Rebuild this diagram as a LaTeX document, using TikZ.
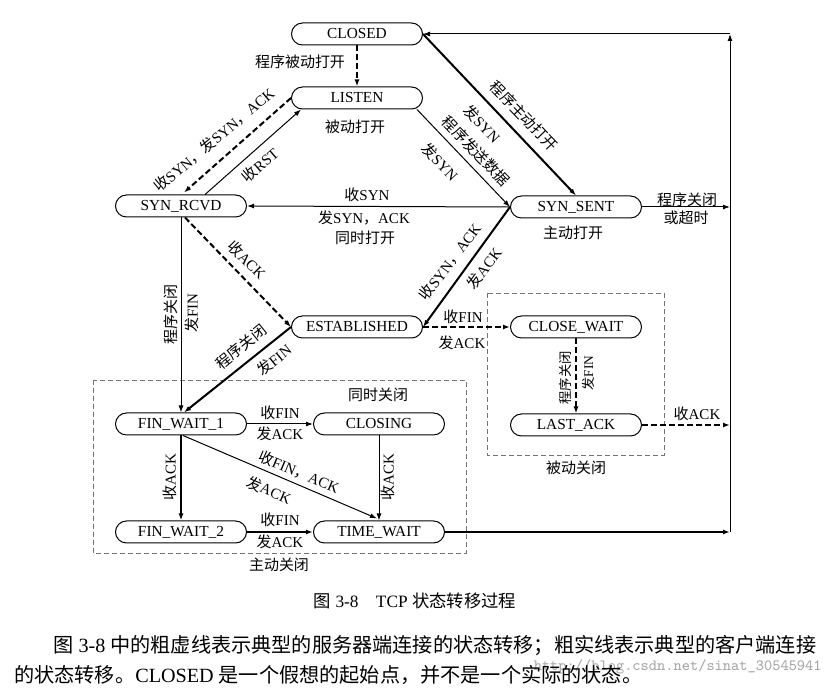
\documentclass[tikz,border=0pt]{standalone}
\usepackage{fontspec}
\setmainfont{Liberation Serif}
\newfontfamily\zhfont{Noto Sans CJK SC}
\newcommand{\zh}[1]{{\zhfont #1}}
\usetikzlibrary{arrows.meta, calc, positioning}
\tikzset{
  state/.style    = {draw, line width=0.6pt, rounded corners=6.6pt, minimum width=78.6pt,
                     minimum height=13.2pt, inner sep=0pt, font=\fontsize{9.2}{10}\selectfont},
  arrowed/.style  = {-{Latex[length=4.2pt,width=3pt]}},
  server/.style   = {arrowed, line width=1.2pt, dash pattern=on 3.6pt off 1.8pt},
  client/.style   = {arrowed, line width=1.2pt},
  thinline/.style = {arrowed, line width=0.6pt},
  groupbox/.style = {draw=black!55, line width=0.5pt, dash pattern=on 3pt off 1.8pt},
  lbl/.style      = {font=\fontsize{9}{10}\selectfont, inner sep=0pt},
  smalllbl/.style = {font=\fontsize{8}{9}\selectfont, inner sep=0pt},
  para/.style     = {anchor=west, inner sep=0pt, font=\fontsize{12.1}{14}\selectfont},
}

\begin{document}
\begin{tikzpicture}[x=0.6pt, y=-0.6pt]
  \useasboundingbox (0,0) rectangle (834,692);
  % closing groups
  \draw[groupbox] (93,380) rectangle (466,553);
  \draw[groupbox] (487,293) rectangle (664,455);

  % states
  \node[state] (closed)    at (357,34)  {CLOSED};
  \node[state] (listen)    at (357,98)  {LISTEN};
  \node[state] (synrcvd)   at (181,206) {SYN\_RCVD};
  \node[state] (synsent)   at (576,207) {SYN\_SENT};
  \node[state] (estab)     at (357,327) {ESTABLISHED};
  \node[state] (closewait) at (576,327) {CLOSE\_WAIT};
  \node[state] (lastack)   at (576,425) {LAST\_ACK};
  \node[state] (finwait1)  at (181,424) {FIN\_WAIT\_1};
  \node[state] (closing)   at (379,424) {CLOSING};
  \node[state] (finwait2)  at (181,532) {FIN\_WAIT\_2};
  \node[state] (timewait)  at (379,532) {TIME\_WAIT};

  % return path on the right
  \coordinate (rbot)  at (730,532);
  \coordinate (rtop)  at (closed.east -| rbot);
  \coordinate (rsent) at (synsent.east -| rbot);
  \coordinate (rlast) at (lastack.east -| rbot);

  % opening
  \draw[server] (closed) -- (listen);
  \draw[server] (listen.west) -- ($(synrcvd.north)+(3,-2)$);
  \draw[thinline] ($(synrcvd.north)+(24,0)$) -- ($(listen.south west)+(10,0)$);
  \draw[client] (closed.east) -- (synsent.north);
  \draw[thinline] ($(listen.south east)+(-6,0)$) -- (synsent.west);
  \draw[thinline] (synsent.west) -- (synrcvd.east);
  \draw[server] ($(synrcvd.south)+(4,0)$) -- (estab.west);
  \draw[client] (synsent.west) -- (estab.east);

  % closing
  \draw[server] (estab.east) -- (closewait.west);
  \draw[server] (closewait) -- (lastack);
  \draw[client] (estab.west) -- ($(finwait1.north)+(3,0)$);
  \draw[thinline] (synrcvd) -- (finwait1);
  \draw[thinline] (finwait1) -- (closing);
  \draw[client] (finwait1) -- (finwait2);
  \draw[thinline] ($(finwait1.south)+(2,0)$) -- ($(timewait.north)+(-2,-2)$);
  \draw[thinline] (closing) -- (timewait);
  \draw[client] (finwait2) -- (timewait);
  \draw[client] (timewait) -- (rbot);
  \draw[thinline] (synsent) -- (rsent);
  \draw[server] (lastack) -- (rlast);
  \draw[thinline] (rbot) -- (rtop);
  \draw[thinline] (rtop) -- (closed.east);

  % labels
  \node[lbl] (lPasvOpen) at (300,62)  {\zh{程序被动打开}};
  \node[lbl] (lListen)   at (355,127) {\zh{被动打开}};
  \node[lbl, rotate=40]  (lRcvSyn)   at (214,140) {\zh{收}SYN\zh{，发}SYN\zh{，}ACK};
  \node[lbl, rotate=41]  (lRst)      at (260,165) {\zh{收}RST};
  \node[lbl, rotate=-46] (lActOpen)  at (524,116) {\zh{程序主动打开}};
  \node[lbl, rotate=-46] (lSendSyn)  at (482,124) {\zh{发}SYN};
  \node[lbl, rotate=-46] (lSendData) at (476,151) {\zh{程序发送数据}};
  \node[lbl, rotate=-46] (lSendSynB) at (440,162) {\zh{发}SYN};
  \node[lbl] (lSimRcv)   at (367,195) {\zh{收}SYN};
  \node[lbl] (lSimSend)  at (364,218) {\zh{发}SYN\zh{，}ACK};
  \node[lbl] (lSimOpen)  at (365,238) {\zh{同时打开}};
  \node[lbl] (lActive)   at (573,233) {\zh{主动打开}};
  \node[lbl] (lTimeout1) at (687,200) {\zh{程序关闭}};
  \node[lbl] (lTimeout2) at (686,218) {\zh{或超时}};
  \node[lbl, rotate=-45] (lRcvAck)  at (247,260) {\zh{收}ACK};
  \node[lbl, rotate=53]  (lSynAck)  at (450,262) {\zh{收}SYN\zh{，}ACK};
  \node[lbl, rotate=53]  (lSendAck) at (484,268) {\zh{发}ACK};
  \node[lbl] (lFinRcv)   at (463,317) {\zh{收}FIN};
  \node[lbl] (lFinAck)   at (462,343) {\zh{发}ACK};
  \node[lbl, rotate=39]  (lClose)    at (241,347) {\zh{程序关闭}};
  \node[lbl, rotate=39]  (lSendFin)  at (274,360) {\zh{发}FIN};
  \node[lbl, rotate=90]  (lClose2)   at (171,315) {\zh{程序关闭}};
  \node[lbl, rotate=90]  (lSendFin2) at (192,313) {\zh{发}FIN};
  \node[smalllbl, rotate=90] (lClose3)   at (565,378) {\zh{程序关闭}};
  \node[smalllbl, rotate=90] (lSendFin3) at (588,373) {\zh{发}FIN};
  \node[lbl] (lLastAck)  at (697,414) {\zh{收}ACK};
  \node[lbl] (lPassive)  at (576,468) {\zh{被动关闭}};
  \node[lbl] (lSimClose) at (378,395) {\zh{同时关闭}};
  \node[lbl] (lFw1Rcv)   at (280,413) {\zh{收}FIN};
  \node[lbl] (lFw1Ack)   at (280,434) {\zh{发}ACK};
  \node[lbl, rotate=90]  (lFw2Ack)    at (170,477) {\zh{收}ACK};
  \node[lbl, rotate=-23] (lFinAck2)   at (299,472) {\zh{收}FIN\zh{，}ACK};
  \node[lbl, rotate=-23] (lSendAck2)  at (269,490) {\zh{发}ACK};
  \node[lbl, rotate=90]  (lClosingAck) at (388,477) {\zh{收}ACK};
  \node[lbl] (lFw2Rcv)   at (280,520) {\zh{收}FIN};
  \node[lbl] (lFw2Send)  at (280,542) {\zh{发}ACK};
  \node[lbl] (lActClose) at (279,565) {\zh{主动关闭}};

  % caption and text
  \node[inner sep=0pt, font=\fontsize{10.4}{12}\selectfont] (caption) at (415,601)
    {\zh{图} 3-8\quad TCP \zh{状态转移过程}};
  \node[anchor=east, inner sep=0pt, text=black!35, font=\ttfamily\fontsize{9.4}{10}\selectfont]
    (mark) at (822,667) {http://blog.csdn.net/sinat\_30545941};
  \node[para] (para1) at (53,646)
    {\zh{图} 3-8 \zh{中的粗虚线表示典型的服务器端连接的状态转移；粗实线表示典型的客户端连接}};
  \node[para] (para2) at (14,675)
    {\zh{的状态转移。}CLOSED \zh{是一个假想的起始点，并不是一个实际的状态。}};
\end{tikzpicture}
\end{document}
